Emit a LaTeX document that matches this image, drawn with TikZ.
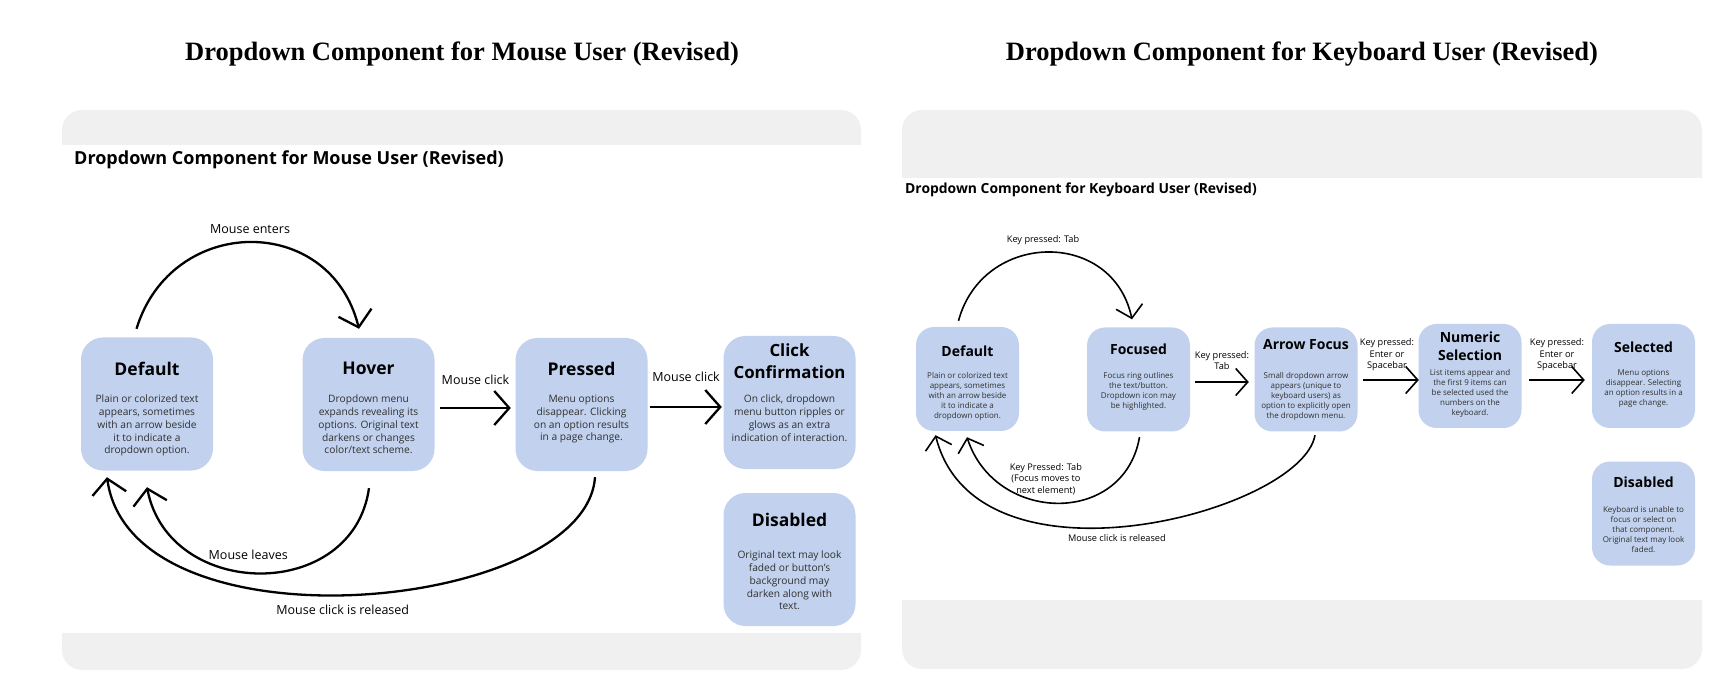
\documentclass[tikz,border=0pt]{standalone}
\usepackage{fontspec}
\setmainfont{Open Sans}
\newfontfamily\titleserif{Liberation Serif}
\usetikzlibrary{arrows.meta}

\definecolor{stateblue}{RGB}{194,210,238}
\definecolor{bandgrey}{RGB}{240,240,240}
\definecolor{textgrey}{RGB}{48,48,48}

\tikzset{
  state/.style={fill=stateblue, rounded corners=22pt, minimum width=132pt, minimum height=133pt, inner sep=0pt},
  kstate/.style={fill=stateblue, rounded corners=18pt, minimum width=103pt, minimum height=104pt, inner sep=0pt},
  head/.style={font=\bfseries\fontsize{17.5}{22}\selectfont, align=center, inner sep=0pt, anchor=south},
  khead/.style={font=\bfseries\fontsize{14}{17.7}\selectfont, align=center, inner sep=0pt, anchor=south},
  body/.style={font=\fontsize{10.2}{12.7}\selectfont, text=textgrey, align=center, inner sep=0pt, anchor=north},
  kbody/.style={font=\fontsize{8}{10.1}\selectfont, text=textgrey, align=center, inner sep=0pt, anchor=north},
  trans/.style={font=\fontsize{12.5}{15}\selectfont, align=center, inner sep=0pt},
  ktrans/.style={font=\fontsize{9.2}{11.3}\selectfont, align=center, inner sep=0pt},
  flow/.style={line width=2.3pt, -{Straight Barb[length=15pt,width=34pt]}},
  kflow/.style={line width=1.6pt, -{Straight Barb[length=12pt,width=27pt]}}
}

\begin{document}
\begin{tikzpicture}[x=1pt, y=1pt]
  \useasboundingbox (0,0) rectangle (1726,694);
  % panels
  \fill[bandgrey, rounded corners=20pt] (62,24) rectangle (861,584);
  \fill[white] (62,61) rectangle (861,549);
  \fill[bandgrey, rounded corners=20pt] (902,25) rectangle (1702,584);
  \fill[white] (902,94) rectangle (1702,516);

  \node[font=\titleserif\bfseries\fontsize{26.5}{30}\selectfont, anchor=base] (mtitle) at (462,633) {Dropdown Component for Mouse User (Revised)};
  \node[font=\titleserif\bfseries\fontsize{26.5}{30}\selectfont, anchor=base] (ktitle) at (1302,633) {Dropdown Component for Keyboard User (Revised)};
  \node[font=\bfseries\fontsize{18}{22}\selectfont, anchor=base west, inner sep=0pt] (msub) at (74,529.5) {Dropdown Component for Mouse User (Revised)};
  \node[font=\bfseries\fontsize{13.9}{16}\selectfont, anchor=base west, inner sep=0pt] (ksub) at (905,500) {Dropdown Component for Keyboard User (Revised)};

  % mouse user
  \foreach \nm/\x/\y in {mdef/147/290, mhov/368.5/289.5, mpre/581.5/289.5, mclk/789.5/291.5, mdis/789.5/134.5}
    \node[state] (\nm) at (\x,\y) {};
  \node[head] (mdef-h) at (147,318.6) {Default};
  \node[head] (mhov-h) at (368.5,319.6) {Hover};
  \node[head] (mpre-h) at (581.5,318.6) {Pressed};
  \node[head, font=\bfseries\fontsize{16.8}{22}\selectfont] (mclk-h) at (789.5,315.6) {Click\\Confirmation};
  \node[head] (mdis-h) at (789.5,167.6) {Disabled};
  \node[body] (mdef-b) at (147,299) {Plain or colorized text\\appears, sometimes\\with an arrow beside\\it to indicate a\\dropdown option.};
  \node[body] (mhov-b) at (368.5,299) {Dropdown menu\\expands revealing its\\options. Original text\\darkens or changes\\color/text scheme.};
  \node[body] (mpre-b) at (581.5,299) {Menu options\\disappear. Clicking\\on an option results\\in a page change.};
  \node[body] (mclk-b) at (789.5,299) {On click, dropdown\\menu button ripples or\\glows as an extra\\indication of interaction.};
  \node[body] (mdis-b) at (789.5,143) {Original text may look\\faded or button’s\\background may\\darken along with\\text.};

  \draw[flow] ([shift={(-10.5,8.5)}]mdef.north) to[out=73,in=104,looseness=1.38]
    node[trans, above=8pt] (l-enter) {Mouse enters} ([shift={(-9.5,9)}]mhov.north);
  \draw[flow] ([shift={(5.5,-3.5)}]mhov.east) -- node[trans, above=22pt] (l-click1) {Mouse click} ([shift={(-4.5,-3.5)}]mpre.west);
  \draw[flow] ([shift={(2.5,-2.5)}]mpre.east) -- node[trans, above=24pt] (l-click2) {Mouse click} ([shift={(-1.5,-4.5)}]mclk.west);
  \draw[flow] ([shift={(0.5,-17)}]mhov.south) to[out=-98,in=-79,looseness=1.33]
    node[trans, above=12pt, xshift=-12pt] (l-leave) {Mouse leaves} ([shift={(0,-16.5)}]mdef.south);
  \draw[flow] ([shift={(13.5,-6)}]mpre.south) .. controls +(-94:135) and +(-82:180) .. ([shift={(-40,-6.5)}]mdef.south)
    node[trans, below=9pt, pos=0.52] (l-release) {Mouse click is released};

  % keyboard user
  \foreach \nm/\x/\y in {kdef/967.5/315, kfoc/1138.5/314.5, karr/1306/314.5, knum/1470/318, ksel/1643.5/318, kdis/1643.5/180.5}
    \node[kstate] (\nm) at (\x,\y) {};
  \node[khead] (kdef-h) at (967.5,337.3) {Default};
  \node[khead] (kfoc-h) at (1138.5,339) {Focused};
  \node[khead] (karr-h) at (1306,344) {Arrow Focus};
  \node[khead] (knum-h) at (1470,333.3) {Numeric\\Selection};
  \node[khead] (ksel-h) at (1643.5,341.3) {Selected};
  \node[khead] (kdis-h) at (1643.5,206.3) {Disabled};
  \node[kbody] (kdef-b) at (967.5,321.8) {Plain or colorized text\\appears, sometimes\\with an arrow beside\\it to indicate a\\dropdown option.};
  \node[kbody] (kfoc-b) at (1138.5,321.8) {Focus ring outlines\\the text/button.\\Dropdown icon may\\be highlighted.};
  \node[kbody] (karr-b) at (1306,321.8) {Small dropdown arrow\\appears (unique to\\keyboard users) as\\option to explicitly open\\the dropdown menu.};
  \node[kbody] (knum-b) at (1470,324.8) {List items appear and\\the first 9 items can\\be selected used the\\numbers on the\\keyboard.};
  \node[kbody] (ksel-b) at (1643.5,325) {Menu options\\disappear. Selecting\\an option results in a\\page change.};
  \node[kbody] (kdis-b) at (1643.5,187.8) {Keyboard is unable to\\focus or select on\\that component.\\Original text may look\\faded.};

  \draw[kflow] ([shift={(-9,6)}]kdef.north) to[out=75,in=102,looseness=1.37]
    node[ktrans, above=7pt, xshift=-4pt] (k-tab1) {Key pressed: Tab} ([shift={(-6.5,8)}]kfoc.north);
  \draw[kflow] ([shift={(5,-2.5)}]kfoc.east) -- node[ktrans, above=11.7pt] (k-tab2) {Key pressed:\\Tab} ([shift={(-5.5,-2.5)}]karr.west);
  \draw[kflow] ([shift={(5.5,-0.5)}]karr.east) -- node[ktrans, above=8.5pt, xshift=-4pt] (k-enter1) {Key pressed:\\Enter or\\Spacebar} ([shift={(0.5,-4)}]knum.west);
  \draw[kflow] ([shift={(7.5,-4)}]knum.east) -- node[ktrans, above=8.5pt] (k-enter2) {Key pressed:\\Enter or\\Spacebar} ([shift={(-7,-4)}]ksel.west);
  \draw[kflow] ([shift={(1,-5.5)}]kfoc.south) to[out=-100,in=-72,looseness=1.35]
    node[ktrans, above=7.7pt, xshift=-12pt] (k-back) {Key Pressed: Tab\\(Focus moves to\\next element)} ([shift={(-0.5,-6)}]kdef.south);
  \draw[kflow] ([shift={(9,-3.5)}]karr.south) .. controls +(-100:78) and +(-76:168) .. ([shift={(-32,-4)}]kdef.south)
    node[ktrans, below=7pt, pos=0.535] (k-release) {Mouse click is released};
\end{tikzpicture}
\end{document}
